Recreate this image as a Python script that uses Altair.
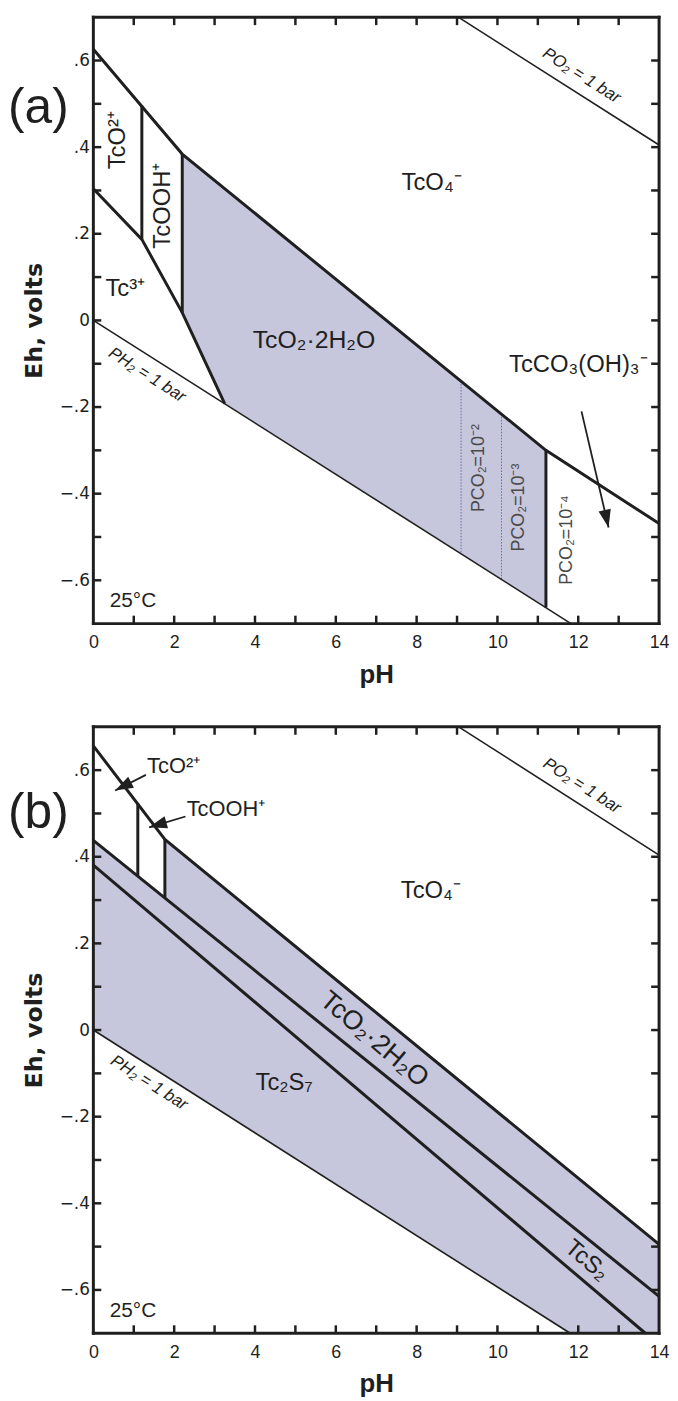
import altair as alt
import pandas as pd

# ------------------------------------------------------------------ data
# axis ticks / labels
x_label_values = [0, 2, 4, 6, 8, 10, 12, 14]
y_label_values = [-0.6, -0.4, -0.2, 0.0, 0.2, 0.4, 0.6]
x_tick_values = [1, 2, 3, 4, 5, 6, 7, 8, 9, 10, 11, 12, 13]
y_tick_values = [-0.6, -0.5, -0.4, -0.3, -0.2, -0.1, 0.0, 0.1, 0.2, 0.3, 0.4, 0.5, 0.6]

# ---- panel (a) boundaries (pH, Eh)
a_upper_ph = [0, 2.2, 11.2, 14]
a_upper_eh = [0.626, 0.384, -0.300, -0.469]
a_tc3_ph = [0, 1.2, 2.2, 3.25]
a_tc3_eh = [0.304, 0.187, 0.018, -0.192]
a_v1_ph = [1.2, 1.2]
a_v1_eh = [0.187, 0.496]
a_v2_ph = [2.2, 2.2]
a_v2_eh = [0.018, 0.384]
a_v3_ph = [11.2, 11.2]
a_v3_eh = [-0.663, -0.300]
a_o2_ph = [9.03, 14]
a_o2_eh = [0.70, 0.405]
a_h2_ph = [0, 11.82]
a_h2_eh = [0.0, -0.70]
a_dot1_ph = [9.1, 9.1]
a_dot1_eh = [-0.140, -0.539]
a_dot2_ph = [10.1, 10.1]
a_dot2_eh = [-0.216, -0.598]
a_fill_ph = [2.2, 3.25, 11.2]
a_fill_top = [0.384, 0.304, -0.300]
a_fill_bot = [0.018, -0.192, -0.663]

# ---- panel (b) boundaries (pH, Eh)
b_upper_ph = [0, 1.77, 14]
b_upper_eh = [0.656, 0.44, -0.495]
b_mid_ph = [0, 14]
b_mid_eh = [0.438, -0.615]
b_low_ph = [0, 13.66]
b_low_eh = [0.381, -0.70]
b_v1_ph = [1.1, 1.1]
b_v1_eh = [0.355, 0.522]
b_v2_ph = [1.77, 1.77]
b_v2_eh = [0.305, 0.44]
b_o2_ph = [9.04, 14]
b_o2_eh = [0.70, 0.404]
b_h2_ph = [0, 11.8]
b_h2_eh = [0.0, -0.70]
b_fill1_ph = [0, 11.8, 14]
b_fill1_top = [0.438, -0.449, -0.615]
b_fill1_bot = [0.0, -0.70, -0.70]
b_fill2_ph = [1.77, 14]
b_fill2_top = [0.44, -0.495]
b_fill2_bot = [0.305, -0.615]

# ---- labels
a_lab_text = ["TcO²⁺", "TcOOH⁺", "Tc³⁺", "TcO₄⁻", "TcO₂·2H₂O", "TcCO₃(OH)₃⁻", "25°C"]
a_lab_ph = [0.62, 1.72, 0.79, 8.37, 5.46, 12.0, 0.98]
a_lab_eh = [0.416, 0.265, 0.073, 0.318, -0.046, -0.103, -0.647]
a_lab_ang = [270, 270, 0, 0, 0, 0, 0]
a_lab_size = [24, 24, 24, 24, 25, 24, 21]

a_pco2_text = ["PCO₂=10⁻²", "PCO₂=10⁻³", "PCO₂=10⁻⁴"]
a_pco2_ph = [9.55, 10.53, 11.71]
a_pco2_eh = [-0.341, -0.432, -0.507]

a_gas_text = ["PH₂ = 1 bar", "PO₂ = 1 bar"]
a_gas_ph = [1.33, 12.08]
a_gas_eh = [-0.126, 0.565]

a_arrow_ph = [12.08]
a_arrow_eh = [-0.210]
a_arrow_tip_ph = [12.75]
a_arrow_tip_eh = [-0.478]
a_arrow_ang = [347.3]

b_lab_text = ["TcO₄⁻", "TcO₂·2H₂O", "TcS₂", "Tc₂S₇", "25°C"]
b_lab_ph = [8.35, 6.95, 12.21, 4.72, 0.98]
b_lab_eh = [0.321, -0.022, -0.532, -0.122, -0.649]
b_lab_ang = [0, 40, 40, 0, 0]
b_lab_size = [24, 27, 24, 24, 21]

b_left_text = ["TcO²⁺", "TcOOH⁺"]
b_left_ph = [1.33, 2.31]
b_left_eh = [0.61, 0.511]

b_gas_text = ["PH₂ = 1 bar", "PO₂ = 1 bar"]
b_gas_ph = [1.38, 12.09]
b_gas_eh = [-0.122, 0.564]

b_arrow_ph = [1.30, 2.28]
b_arrow_eh = [0.589, 0.493]
b_arrow_tip_ph = [0.54, 1.38]
b_arrow_tip_eh = [0.553, 0.468]
b_arrow_ang = [62.7, 73.8]

panel_tags = ["(a)", "(b)"]
panel_tag_ph = [-2.11, -2.11]
panel_tag_eh = [0.49, 0.50]

# ------------------------------------------------------------------ style
W, H = 570, 611
FONT = "Liberation Sans"
INK = "#1f1f1f"
FILL = "#c6c6dc"
HEAD = "M0,0L-0.7,-2L0.7,-2Z"

x_axis = alt.Axis(values=x_label_values, format="d", ticks=False, domain=False, grid=False,
                  labelFont=FONT, labelFontSize=18, labelColor=INK, labelPadding=10,
                  labelFlush=False, labelOverlap=False,
                  title="pH", titleFont=FONT, titleFontSize=26, titleFontWeight="bold",
                  titleColor=INK, titlePadding=10)
y_axis = alt.Axis(values=y_label_values,
                  labelExpr="datum.value == 0 ? '0' : (datum.value < 0 ? '\u2212' : '') + replace(format(abs(datum.value), '.1f'), '0.', '.')",
                  ticks=False, domain=False, grid=False,
                  labelFont="DejaVu Sans", labelFontSize=17, labelColor=INK, labelPadding=4,
                  labelFlush=False, labelOverlap=False,
                  title="Eh, volts", titleFont="DejaVu Sans", titleFontSize=24,
                  titleFontWeight="bold", titleColor=INK, titlePadding=13)


def X(field="pH"):
    return alt.X(f"{field}:Q", scale=alt.Scale(domain=[0, 14], nice=False, zero=False), axis=x_axis)


def Y(field="Eh"):
    return alt.Y(f"{field}:Q", scale=alt.Scale(domain=[-0.7, 0.7], nice=False, zero=False), axis=y_axis)


def lines_df(series):
    rows = []
    for name, (xs, ys) in series.items():
        for i, (x, y) in enumerate(zip(xs, ys)):
            rows.append({"line": name, "i": i, "pH": x, "Eh": y})
    return pd.DataFrame(rows)


def line_layer(series, **kw):
    return alt.Chart(lines_df(series)).mark_line(**kw).encode(
        x=X(), y=Y(), detail="line:N", order="i:Q")


def area_layer(ph, top, bot):
    df = pd.DataFrame({"pH": ph, "Eh": top, "Eh2": bot})
    return alt.Chart(df).mark_area(color=FILL, opacity=1, strokeWidth=0).encode(
        x=X(), y=Y(), y2="Eh2:Q")


def text_layer(text, ph, eh, ang, size, **kw):
    df = pd.DataFrame({"text": text, "pH": ph, "Eh": eh, "angle": ang, "size": size})
    return alt.Chart(df).mark_text(**kw).encode(
        x=X(), y=Y(), text="text:N",
        angle=alt.Angle("angle:Q", scale=None),
        size=alt.Size("size:Q", scale=None))


def arrow_layers(ph, eh, tph, teh, ang):
    shaft = alt.Chart(pd.DataFrame({"pH": ph, "Eh": eh, "pHt": tph, "Eht": teh})).mark_rule(
        color=INK, strokeWidth=1.8).encode(x=X(), y=Y(), x2="pHt:Q", y2="Eht:Q")
    head = alt.Chart(pd.DataFrame({"pH": tph, "Eh": teh, "angle": ang})).mark_point(
        shape=HEAD, filled=True, color=INK, opacity=1, size=324, strokeWidth=0).encode(
        x=X(), y=Y(), angle=alt.Angle("angle:Q", scale=None))
    return [shaft, head]


def frame_layers():
    one = pd.DataFrame({"k": [0]})
    st = dict(color=INK, strokeWidth=3, strokeCap="square")
    return [
        alt.Chart(one).mark_rule(**st).encode(x=alt.value(0), x2=alt.value(W), y=alt.value(0)),
        alt.Chart(one).mark_rule(**st).encode(x=alt.value(0), x2=alt.value(W), y=alt.value(H)),
        alt.Chart(one).mark_rule(**st).encode(y=alt.value(0), y2=alt.value(H), x=alt.value(0)),
        alt.Chart(one).mark_rule(**st).encode(y=alt.value(0), y2=alt.value(H), x=alt.value(W)),
    ]


def tick_layers():
    xt = pd.DataFrame({"pH": x_tick_values})
    yt = pd.DataFrame({"Eh": y_tick_values})
    st = dict(color=INK, strokeWidth=2.5)
    return [
        alt.Chart(xt).mark_rule(**st).encode(x=X(), y=alt.value(H), y2=alt.value(H - 8)),
        alt.Chart(xt).mark_rule(**st).encode(x=X(), y=alt.value(0), y2=alt.value(8)),
        alt.Chart(yt).mark_rule(**st).encode(y=Y(), x=alt.value(0), x2=alt.value(8)),
        alt.Chart(yt).mark_rule(**st).encode(y=Y(), x=alt.value(W), x2=alt.value(W - 8)),
    ]


def tag_layer(k):
    return text_layer([panel_tags[k]], [panel_tag_ph[k]], [panel_tag_eh[k]], [0], [50],
                      font=FONT, color=INK, align="left", baseline="middle")


# ------------------------------------------------------------------ panel (a)
pa = alt.layer(
    area_layer(a_fill_ph, a_fill_top, a_fill_bot),
    line_layer({"d1": (a_dot1_ph, a_dot1_eh), "d2": (a_dot2_ph, a_dot2_eh)},
               color="#6f6fa0", strokeWidth=1, strokeDash=[1.5, 1.5]),
    line_layer({"o2": (a_o2_ph, a_o2_eh), "h2": (a_h2_ph, a_h2_eh)}, color=INK, strokeWidth=1.6),
    line_layer({"up": (a_upper_ph, a_upper_eh), "tc3": (a_tc3_ph, a_tc3_eh),
                "v1": (a_v1_ph, a_v1_eh), "v2": (a_v2_ph, a_v2_eh), "v3": (a_v3_ph, a_v3_eh)},
               color=INK, strokeWidth=3),
    *tick_layers(),
    *frame_layers(),
    text_layer(a_lab_text, a_lab_ph, a_lab_eh, a_lab_ang, a_lab_size,
               font=FONT, color=INK, align="center", baseline="middle"),
    text_layer(a_pco2_text, a_pco2_ph, a_pco2_eh, [270] * 3, [18] * 3,
               font=FONT, color="#4a4a4a", align="center", baseline="middle"),
    text_layer(a_gas_text, a_gas_ph, a_gas_eh, [32.5] * 2, [17] * 2,
               font=FONT, color=INK, fontStyle="italic", align="center", baseline="middle"),
    *arrow_layers(a_arrow_ph, a_arrow_eh, a_arrow_tip_ph, a_arrow_tip_eh, a_arrow_ang),
    tag_layer(0),
).properties(width=W, height=H)

# ------------------------------------------------------------------ panel (b)
pb = alt.layer(
    area_layer(b_fill1_ph, b_fill1_top, b_fill1_bot),
    area_layer(b_fill2_ph, b_fill2_top, b_fill2_bot),
    line_layer({"o2": (b_o2_ph, b_o2_eh), "h2": (b_h2_ph, b_h2_eh)}, color=INK, strokeWidth=1.6),
    line_layer({"up": (b_upper_ph, b_upper_eh), "mid": (b_mid_ph, b_mid_eh),
                "low": (b_low_ph, b_low_eh), "v1": (b_v1_ph, b_v1_eh), "v2": (b_v2_ph, b_v2_eh)},
               color=INK, strokeWidth=3),
    *tick_layers(),
    *frame_layers(),
    text_layer(b_lab_text, b_lab_ph, b_lab_eh, b_lab_ang, b_lab_size,
               font=FONT, color=INK, align="center", baseline="middle"),
    text_layer(b_left_text, b_left_ph, b_left_eh, [0, 0], [22, 22],
               font=FONT, color=INK, align="left", baseline="middle"),
    text_layer(b_gas_text, b_gas_ph, b_gas_eh, [32.5] * 2, [17] * 2,
               font=FONT, color=INK, fontStyle="italic", align="center", baseline="middle"),
    *arrow_layers(b_arrow_ph, b_arrow_eh, b_arrow_tip_ph, b_arrow_tip_eh, b_arrow_ang),
    tag_layer(1),
).properties(width=W, height=H)

chart = alt.vconcat(pa, pb, spacing=104, bounds="flush").properties(
    padding=0, background="white"
).configure(font=FONT).configure_view(stroke=None)

chart.save("out.html", embed_options={"renderer": "svg", "actions": False})
